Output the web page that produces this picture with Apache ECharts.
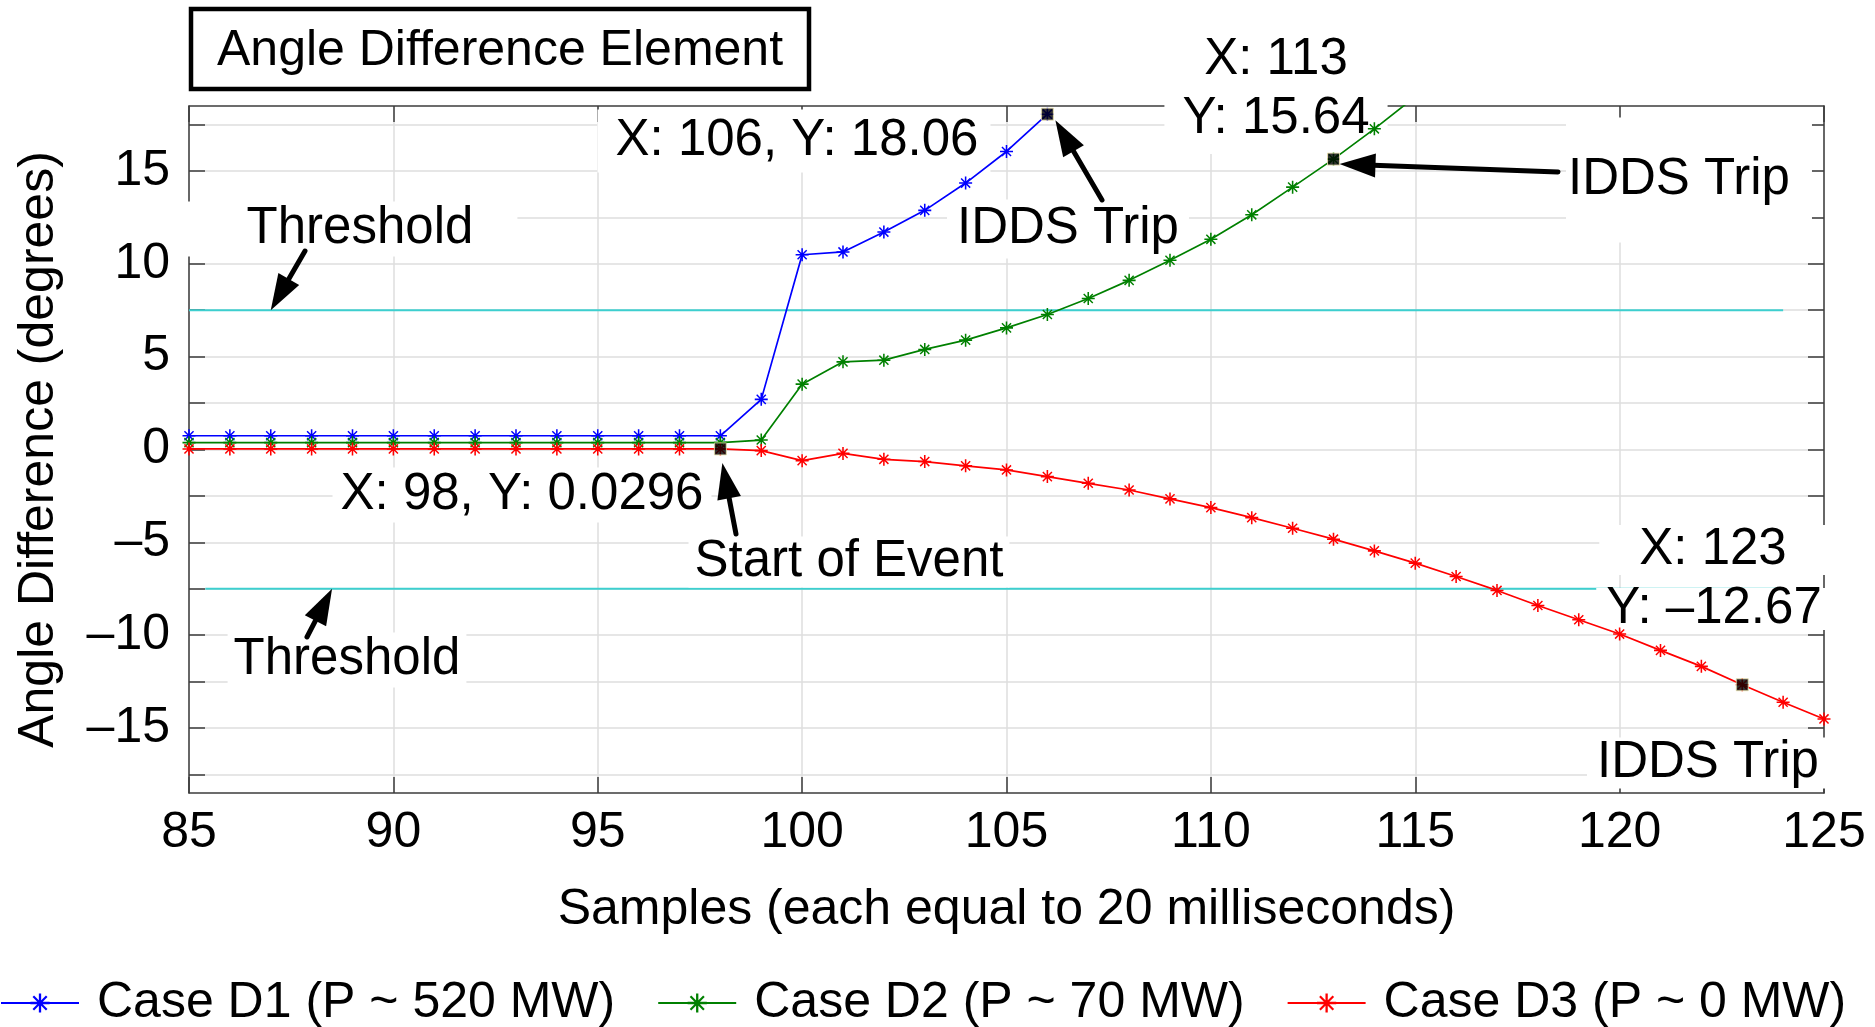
<!DOCTYPE html>
<html>
<head>
<meta charset="UTF-8">
<title>Angle Difference Element</title>
<script src="https://cdn.jsdelivr.net/npm/echarts@6/dist/echarts.min.js"></script>
<style>
  html, body { margin: 0; padding: 0; background: #fff; }
  #main { width: 1875px; height: 1027px; }
</style>
</head>
<body>
<div id="main"></div>
<script>
// sample numbers (each sample = 20 ms)
var samples = [85, 86, 87, 88, 89, 90, 91, 92, 93, 94, 95, 96, 97, 98, 99, 100,
    101, 102, 103, 104, 105, 106, 107, 108, 109, 110, 111, 112, 113, 114, 115,
    116, 117, 118, 119, 120, 121, 122, 123, 124, 125];

// angle difference (degrees)
var caseD1 = [0.74, 0.74, 0.74, 0.74, 0.74, 0.74, 0.74, 0.74, 0.74, 0.74, 0.74, 0.74, 0.74, 0.74,
    2.70, 10.49, 10.64, 11.71, 12.88, 14.35, 16.05, 18.06];
var caseD2 = [0.37, 0.37, 0.37, 0.37, 0.37, 0.37, 0.37, 0.37, 0.37, 0.37, 0.37, 0.37, 0.37, 0.37,
    0.51, 3.52, 4.72, 4.81, 5.39, 5.89, 6.55, 7.27, 8.13, 9.11, 10.19, 11.32, 12.64, 14.13,
    15.64, 17.27, 19.0];
var caseD3 = [0.03, 0.03, 0.03, 0.03, 0.03, 0.03, 0.03, 0.03, 0.03, 0.03, 0.03, 0.03, 0.03, 0.0296,
    -0.06, -0.60, -0.21, -0.53, -0.65, -0.88, -1.10, -1.46, -1.82, -2.18, -2.66, -3.13, -3.67,
    -4.24, -4.83, -5.46, -6.12, -6.84, -7.59, -8.40, -9.17, -9.94, -10.82, -11.68, -12.67,
    -13.61, -14.51];

var seriesNames = ['Case D1 (P ~ 520 MW)', 'Case D2 (P ~ 70 MW)', 'Case D3 (P ~ 0 MW)'];
var seriesColors = ['#0000ff', '#008000', '#ff0000'];

// threshold lines
var thresholdUpper = 7.5;
var thresholdLower = -7.5;
var thresholdUpperX = [85, 124];
var thresholdLowerX = [85.4, 124];

// data tips (black squares)
var tipX = [98, 106, 113, 123];
var tipY = [0.0296, 18.06, 15.64, -12.67];

// axis ticks
var yTickValues = [-17.5, -15, -12.5, -10, -7.5, -5, -2.5, 0, 2.5, 5, 7.5, 10, 12.5, 15, 17.5];
var yLabelValues = [-15, -10, -5, 0, 5, 10, 15];

var FONT = '"Liberation Sans", Arial, Helvetica, sans-serif';
// matlab-like '*' marker (+ and x overlaid)
var asterisk = 'path://M44 0L56 0L56 100L44 100Z M0 44L100 44L100 56L0 56Z ' +
    'M19 11L89 81L81 89L11 19Z M89 19L19 89L11 81L81 11Z';

function pairs(xs, ys) {
    return ys.map(function (v, i) { return [xs[i], v]; });
}

var myChart = echarts.init(document.getElementById('main'));

var frame = { show: true, onZero: false, lineStyle: { color: '#3c3c3c', width: 1.5 } };
var tick = { show: true, inside: true, length: 16, lineStyle: { color: '#3c3c3c', width: 1.5 } };
var grid = { show: true, lineStyle: { color: '#dedede', width: 1.5 } };

option = {
    animation: false,
    backgroundColor: '#fff',
    textStyle: { fontFamily: FONT },
    grid: { left: 189, right: 51, top: 106, bottom: 234 },
    legend: {
        data: seriesNames,
        left: 0,
        top: 978,
        padding: 0,
        itemWidth: 78,
        itemHeight: 24,
        itemGap: 42,
        formatter: function (name) { return '{t|' + name + '}'; },
        textStyle: {
            fontSize: 50, color: '#000', fontFamily: FONT,
            rich: { t: { fontSize: 50, color: '#000', fontFamily: FONT, padding: [0, 0, 0, 13] } }
        }
    },
    xAxis: [
        {
            type: 'value', min: 85, max: 125, interval: 5, position: 'bottom',
            name: 'Samples (each equal to 20 milliseconds)',
            nameLocation: 'middle', nameGap: 92,
            nameTextStyle: { fontSize: 50, color: '#000', fontFamily: FONT },
            axisLine: frame, axisTick: tick,
            axisLabel: { fontSize: 50, color: '#000', margin: 15, fontFamily: FONT },
            splitLine: grid
        },
        {
            type: 'value', min: 85, max: 125, interval: 5, position: 'top',
            axisLine: frame, axisTick: tick, axisLabel: { show: false }, splitLine: { show: false }
        }
    ],
    yAxis: [
        {
            type: 'value', min: -18.5, max: 18.5, position: 'left',
            name: 'Angle Difference (degrees)',
            nameLocation: 'middle', nameGap: 125,
            nameTextStyle: { fontSize: 50, color: '#000', fontFamily: FONT },
            axisLine: frame,
            axisTick: Object.assign({ customValues: yTickValues }, tick),
            axisLabel: {
                customValues: yLabelValues, fontSize: 50, color: '#000', margin: 19, fontFamily: FONT,
                formatter: function (v) { return v < 0 ? '\u2013' + Math.abs(v) : String(v); }
            },
            splitLine: grid
        },
        {
            type: 'value', min: -18.5, max: 18.5, position: 'right',
            axisLine: frame,
            axisTick: Object.assign({ customValues: yTickValues }, tick),
            axisLabel: { show: false }, splitLine: { show: false }
        }
    ],
    series: [
        {
            name: 'Threshold upper', type: 'line', symbol: 'none', silent: true,
            lineStyle: { color: '#3dcfcf', width: 2 }, z: 1,
            data: [[thresholdUpperX[0], thresholdUpper], [thresholdUpperX[1], thresholdUpper]]
        },
        {
            name: 'Threshold lower', type: 'line', symbol: 'none', silent: true,
            lineStyle: { color: '#3dcfcf', width: 2 }, z: 1,
            data: [[thresholdLowerX[0], thresholdLower], [thresholdLowerX[1], thresholdLower]]
        }
    ]
};

[caseD1, caseD2, caseD3].forEach(function (vals, k) {
    option.series.push({
        name: seriesNames[k], type: 'line',
        symbol: asterisk, symbolSize: 13, showAllSymbol: true,
        color: seriesColors[k],
        itemStyle: { color: seriesColors[k] },
        lineStyle: { color: seriesColors[k], width: 1.7 },
        clip: true, z: 3,
        data: pairs(samples, vals)
    });
});

option.series.push({
    name: 'Data tips', type: 'scatter', symbol: 'rect', symbolSize: 12, z: 5,
    itemStyle: { color: '#000', borderColor: '#efe6b0', borderWidth: 1 },
    data: pairs(tipX, tipY)
});

myChart.setOption(option);

// ---- annotations (data tips, labels, arrows) ----
function px(x, y) { return myChart.convertToPixel({ gridIndex: 0 }, [x, y]); }

// x, y = centre of the text itself; pad = white box padding [top, right, bottom, left]
var notes = [
    { text: 'X: 106, Y: 18.06', x: 797, y: 141, size: 51, pad: [6, 12, 6, 18] },
    { text: 'IDDS Trip', x: 1068, y: 229, size: 51, pad: [4, 10, 4, 10] },
    { text: 'X: 113\nY: 15.64', x: 1276, y: 89, size: 51, lh: 59, pad: [6, 18, 6, 18] },
    { text: 'IDDS Trip', x: 1679, y: 183, size: 51, pad: [40, 22, 34, 2] },
    { text: 'Threshold', x: 360, y: 229, size: 51, pad: [2, 44, 2, 60] },
    { text: 'X: 98, Y: 0.0296', x: 522, y: 495, size: 51, pad: [2, 8, 2, 8] },
    { text: 'Start of Event', x: 849, y: 562, size: 51, pad: [0, 6, 0, 6] },
    { text: 'Threshold', x: 347, y: 660, size: 51, pad: [2, 6, 2, 6] },
    { text: 'X: 123', x: 1713, y: 550, size: 51, lh: 50, pad: [0, 40, 0, 40] },
    { text: 'Y: \u201312.67', x: 1714, y: 609, size: 51, lh: 42, pad: [0, 10, 0, 10] },
    { text: 'IDDS Trip', x: 1708, y: 763, size: 51, pad: [0, 10, 0, 10] }
];

// arrows: tail in pixels, head pointing at a data position (plus a small pixel offset)
var arrows = [
    { from: [1102, 200], at: [tipX[1], tipY[1]], off: [8, 6] },
    { from: [1558, 172], at: [tipX[2], tipY[2]], off: [6, 5] },
    { from: [736, 534], at: [tipX[0], tipY[0]], off: [2, 14] },
    { from: [305, 251], at: [87, thresholdUpper], off: [0, 0] },
    { from: [307, 637], at: [88.5, thresholdLower], off: [0, 0] }
];

var graphics = [];

// title box
graphics.push({
    type: 'rect', z: 100,
    shape: { x: 191, y: 9, width: 618, height: 80 },
    style: { fill: '#fff', stroke: '#000', lineWidth: 4.5 }
});
graphics.push({
    type: 'text', z: 101, x: 500, y: 51,
    style: {
        text: 'Angle Difference Element', font: '50px ' + FONT, fill: '#000',
        align: 'center', verticalAlign: 'middle'
    }
});

notes.forEach(function (n) {
    var p = n.pad;
    graphics.push({
        type: 'text', z: 2.5,
        // the white box is centred, so shift for uneven padding
        x: n.x + (p[1] - p[3]) / 2,
        y: n.y + (p[2] - p[0]) / 2,
        style: {
            text: n.text, font: n.size + 'px ' + FONT, fill: '#000',
            align: 'center', verticalAlign: 'middle',
            lineHeight: n.lh || n.size,
            backgroundColor: '#fff', padding: p
        }
    });
});

arrows.forEach(function (a) {
    var p = px(a.at[0], a.at[1]);
    var tip = [p[0] + a.off[0], p[1] + a.off[1]];
    var dx = tip[0] - a.from[0], dy = tip[1] - a.from[1];
    var len = Math.sqrt(dx * dx + dy * dy);
    var ux = dx / len, uy = dy / len;
    var L = Math.min(36, len * 0.75), W = 12;
    var base = [tip[0] - ux * L, tip[1] - uy * L];
    graphics.push({
        type: 'line', z: 102,
        shape: { x1: a.from[0], y1: a.from[1], x2: base[0] + ux * 2, y2: base[1] + uy * 2 },
        style: { stroke: '#000', lineWidth: 5, lineCap: 'round' }
    });
    graphics.push({
        type: 'polygon', z: 102,
        shape: { points: [tip, [base[0] - uy * W, base[1] + ux * W], [base[0] + uy * W, base[1] - ux * W]] },
        style: { fill: '#000' }
    });
});

myChart.setOption({ graphic: graphics });
</script>
</body>
</html>
